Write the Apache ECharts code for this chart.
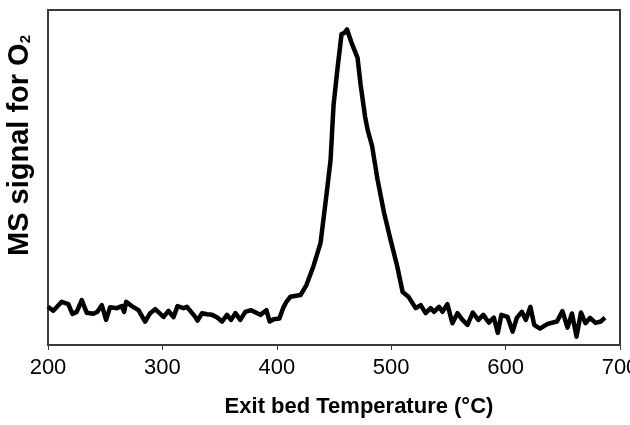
<!DOCTYPE html>
<html>
<head>
<meta charset="utf-8">
<script src="https://cdn.jsdelivr.net/npm/echarts@6/dist/echarts.min.js"></script>
<style>
html,body{margin:0;padding:0;background:#fff;}
#chart{width:630px;height:425px;}
</style>
</head>
<body>
<div id="chart"></div>
<script>
// Exit bed temperature (°C)
const temperature = [200,204.6,212,217.8,221.3,225.1,229.5,233.9,239.7,243.2,247,250.8,254.3,260.2,264.5,266.6,268.3,273.3,279.1,284.9,289.3,293.7,301,305.3,309.7,313.2,318.5,321.5,328.7,330.7,334.6,339,343.4,347.7,352.1,356.5,360,363.8,368.1,372.5,377.5,385.6,390.9,393.8,397.3,402.3,405.5,408.4,411.9,420.7,425.9,432.1,438.2,443.4,447,449.6,453.1,456.6,458.8,461.4,465.8,470.6,473.3,477.2,479.4,483.3,488.1,493.8,499.5,505.2,510,515.3,521.4,525.8,530.1,534.5,537.4,541.8,544.8,549.1,553.5,557.9,562.3,566.7,571.3,576.1,580.5,585.3,589.7,593.2,596.3,601.7,606.1,609.8,614.2,617.7,621.7,625,630,636.7,644.9,649.7,654.1,658,662,665.9,669.8,673.8,678.6,683.1,686.9];
// MS signal for O2 (arbitrary units)
const signal = [11.4,10.2,12.9,12.2,9.3,9.9,13.4,9.6,9.3,9.9,11.9,7.5,11.3,11.0,11.6,9.9,12.9,11.6,10.4,7.0,9.5,10.7,8.4,10.2,8.3,11.6,11.0,11.4,8.4,7.3,9.5,9.2,9.0,8.3,7.0,9.0,7.5,9.5,7.5,9.9,10.4,9.0,10.4,7.0,7.7,7.9,11.0,12.9,14.4,14.9,17.9,23.6,30.4,44.8,55.2,71.6,82.7,92.8,93.1,94.2,89.8,85.7,77.6,68.1,64.2,59.4,49.3,39.4,31.3,23.6,15.8,14.3,11.0,11.9,9.5,11.0,9.9,11.4,9.9,12.2,6.5,9.5,7.5,6.0,9.7,7.5,9.0,6.7,8.2,3.6,9.0,8.4,4.0,8.1,9.9,7.5,11.4,6.0,4.9,6.3,7.0,10.1,5.2,9.4,2.5,9.7,6.5,8.1,6.6,7.0,8.2];
const xTicks = [200,300,400,500,600,700];
const xTitle = 'Exit bed Temperature (°C)';
const yTitle = 'MS signal for O';
const yTitleSub = '2';

const chart = echarts.init(document.getElementById('chart'), null, {renderer:'canvas'});
const pts = temperature.map((t,i)=>[t, signal[i]]);
chart.setOption({
  animation:false,
  backgroundColor:'#fff',
  grid:{left:48,right:10,top:10,bottom:80,containLabel:false,outerBoundsMode:'none',show:true,borderColor:'#3a3a3a',borderWidth:2,backgroundColor:'transparent'},
  xAxis:{
    type:'value',min:200,max:700,interval:100,
    name:xTitle,nameLocation:'middle',nameGap:51,
    nameTextStyle:{fontFamily:'Liberation Sans, Arial',fontWeight:'bold',fontSize:22,color:'#000',padding:[0,0,0,50]},
    axisLine:{show:true,lineStyle:{color:'#3a3a3a',width:2}},
    axisTick:{show:true,length:5,inside:false,lineStyle:{color:'#3a3a3a',width:1}},
    axisLabel:{fontFamily:'Liberation Sans, Arial',fontSize:22,color:'#000',margin:12,formatter:(v)=>xTicks.includes(v)?String(v):''},
    splitLine:{show:false}
  },
  yAxis:{
    type:'value',min:0,max:100,
    axisLine:{show:true,lineStyle:{color:'#3a3a3a',width:2}},
    axisTick:{show:false},axisLabel:{show:false},splitLine:{show:false}
  },
  graphic:[{
    type:'text',left:5,top:35,rotation:Math.PI/2,
    style:{
      text:'{m|'+yTitle+'}{s|'+yTitleSub+'}',
      rich:{
        m:{fontFamily:'Liberation Sans, Arial',fontWeight:'bold',fontSize:29,fill:'#000'},
        s:{fontFamily:'Liberation Sans, Arial',fontWeight:'bold',fontSize:15,fill:'#000',padding:[12,0,0,0]}
      }
    }
  }],
  series:[{
    type:'line',data:pts,showSymbol:false,symbol:'none',
    lineStyle:{color:'#000',width:4.5,join:'round'},
    smooth:false
  }]
});
</script>
</body>
</html>
